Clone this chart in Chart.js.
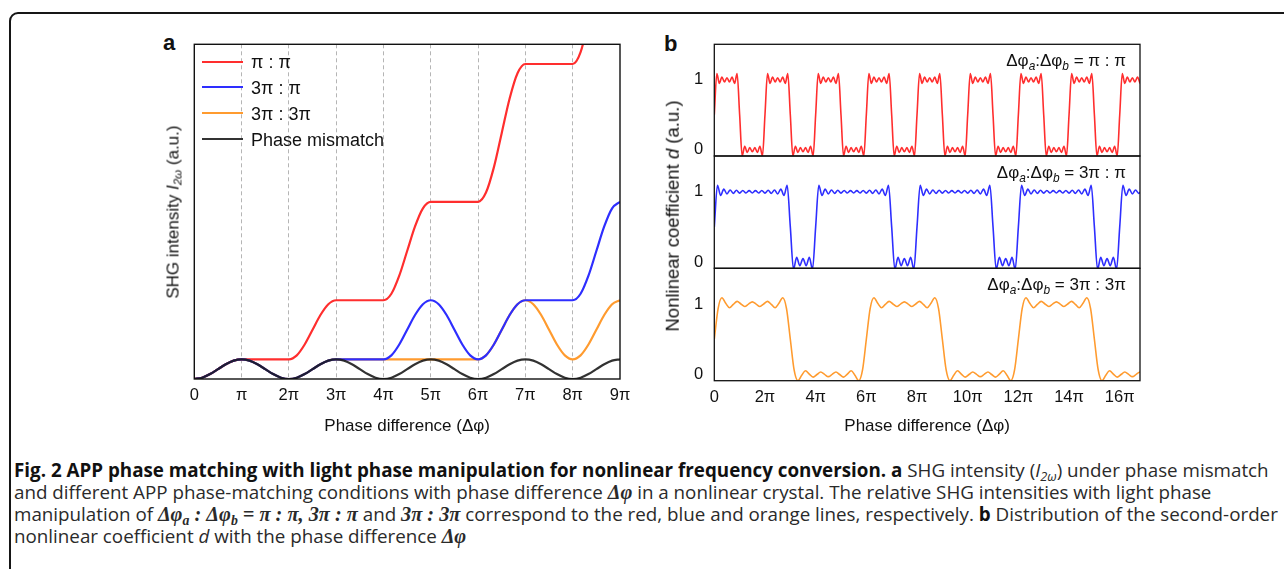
<!DOCTYPE html>
<html><head><meta charset="utf-8">
<script src="https://cdn.jsdelivr.net/npm/chart.js@4.4.1/dist/chart.umd.min.js"></script>
<style>
html,body{margin:0;padding:0;background:#fff;}
body{width:1284px;height:569px;position:relative;overflow:hidden;font-family:'Liberation Sans',Arial,Helvetica,sans-serif;color:#111;}
.abs{position:absolute;}
#frame{left:9px;top:12px;width:1300px;height:590px;border:2.2px solid #161616;border-radius:9px;box-sizing:border-box;}
canvas{position:absolute;}
.plbl{font-weight:bold;font-size:22px;line-height:1;transform:translateY(-50%);}
.ytitle{white-space:nowrap;transform:translate(-50%,-50%) rotate(-90deg);line-height:1;}
.ytitle sub{font-size:0.68em;vertical-align:-0.3em;line-height:0;}
.legline{width:41px;height:2.4px;}
.legtxt{font-size:18px;line-height:1;transform:translateY(-50%);white-space:nowrap;}
.ann{font-size:17px;line-height:1;transform:translateY(-50%);white-space:nowrap;text-align:right;}
.ann sub{font-size:0.7em;font-style:italic;vertical-align:-0.35em;line-height:0;}
#cap{left:14px;top:459px;font-family:'Open Sans','Noto Sans',sans-serif;font-size:15px;line-height:22px;color:#2a2a2a;}
#cap .cl{white-space:nowrap;}
#cap b{font-weight:700;color:#111;}
#cap .m{font-family:'Liberation Serif','DejaVu Serif',serif;font-weight:bold;font-style:italic;font-size:1.08em;}
#cap sub{font-size:0.68em;vertical-align:-0.3em;line-height:0;}
</style></head>
<body>
<div id="frame" class="abs"></div>

<div class="abs plbl" style="left:163px;top:43px;">a</div>
<div class="abs plbl" style="left:664px;top:44px;">b</div>

<canvas id="cA" width="466" height="410" style="left:174px;top:34px;"></canvas>
<canvas id="cB1" width="500" height="132" style="left:660px;top:34px;"></canvas>
<canvas id="cB2" width="500" height="133" style="left:660px;top:146px;"></canvas>
<canvas id="cB3" width="500" height="186" style="left:660px;top:258px;"></canvas>

<div class="abs ytitle" style="left:173px;top:212px;font-size:17px;">SHG intensity <i>I</i><sub><i>2ω</i></sub> (a.u.)</div>
<div class="abs ytitle" style="left:673px;top:216px;font-size:18.5px;">Nonlinear coefficient <i>d</i> (a.u.)</div>

<div class="abs legline" style="left:202px;top:60.5px;background:#ff2e2e"></div>
<div class="abs legline" style="left:202px;top:86.1px;background:#2e2eff"></div>
<div class="abs legline" style="left:202px;top:112.1px;background:#ff9b2f"></div>
<div class="abs legline" style="left:202px;top:137.8px;background:#333"></div>
<div class="abs legtxt" style="left:251px;top:62px;">π : π</div>
<div class="abs legtxt" style="left:251px;top:88px;">3π : π</div>
<div class="abs legtxt" style="left:251px;top:114px;">3π : 3π</div>
<div class="abs legtxt" style="left:251px;top:139.5px;">Phase mismatch</div>

<div class="abs ann" style="right:158px;top:60px;">Δφ<sub>a</sub>:Δφ<sub>b</sub> = π : π</div>
<div class="abs ann" style="right:158px;top:172px;">Δφ<sub>a</sub>:Δφ<sub>b</sub> = 3π : π</div>
<div class="abs ann" style="right:158px;top:284px;">Δφ<sub>a</sub>:Δφ<sub>b</sub> = 3π : 3π</div>

<div id="cap" class="abs">
<div class="cl" id="l1"><b>Fig. 2 APP phase matching with light phase manipulation for nonlinear frequency conversion.</b> <b>a</b> SHG intensity (<i>I</i><sub><i>2ω</i></sub>) under phase mismatch</div>
<div class="cl" id="l2">and different APP phase-matching conditions with phase difference <span class="m">Δφ</span> in a nonlinear crystal. The relative SHG intensities with light phase</div>
<div class="cl" id="l3">manipulation of <span class="m">Δφ<sub>a</sub> : Δφ<sub>b</sub> = π : π, 3π : π</span> and <span class="m">3π : 3π</span> correspond to the red, blue and orange lines, respectively. <b>b</b> Distribution of the second-order</div>
<div class="cl" id="l4">nonlinear coefficient <i>d</i> with the phase difference <span class="m">Δφ</span></div>
</div>

<script>
// ---------- Panel a data (x in units of π, sampled every π/6) ----------
const STEP_A = 1/6;
const tickValsA = [0,1,2,3,4,5,6,7,8,9];
const tickLabelsA = ["0","π","2π","3π","4π","5π","6π","7π","8π","9π"];
const mismatchA = [0,.067,.25,.5,.75,.933,1,.933,.75,.5,.25,.067,0,
  .067,.25,.5,.75,.933,1,.933,.75,.5,.25,.067,0,
  .067,.25,.5,.75,.933,1,.933,.75,.5,.25,.067,0,
  .067,.25,.5,.75,.933,1,.933,.75,.5,.25,.067,0,
  .067,.25,.5,.75,.933,1];
const redA = [0,.067,.25,.5,.75,.933,1, 1,1,1,1,1,1,
  1.2,1.75,2.5,3.25,3.8,4, 4,4,4,4,4,4,
  4.33,5.25,6.5,7.75,8.67,9, 9,9,9,9,9,9,
  9.47,10.75,12.5,14.25,15.53,16, 16,16,16,16,16,16,
  16.6,18.25,20.5,22.75,24.4,25];
const blueA = [0,.067,.25,.5,.75,.933,1,.933,.75,.5,.25,.067,0,.067,.25,.5,.75,.933,1,
  1,1,1,1,1,1,
  1.2,1.75,2.5,3.25,3.8,4, 3.8,3.25,2.5,1.75,1.2,1,
  1.2,1.75,2.5,3.25,3.8,4, 4,4,4,4,4,4,
  4.33,5.25,6.5,7.75,8.67,9];
const orangeA = [0,.067,.25,.5,.75,.933,1,.933,.75,.5,.25,.067,0,.067,.25,.5,.75,.933,1,
  1,1,1,1,1,1, 1,1,1,1,1,1, 1,1,1,1,1,1,
  1.2,1.75,2.5,3.25,3.8,4, 3.8,3.25,2.5,1.75,1.2,1,
  1.2,1.75,2.5,3.25,3.8,4];

// ---------- Panel b data (x in units of π) ----------
const tickValsB = [0,2,4,6,8,10,12,14,16];
const tickLabelsB = ["0","2π","4π","6π","8π","10π","12π","14π","16π"];
const yTickValsB = [0,1];
const STEP_RED_B = 0.1;
const redB = [
 .5,1.09,.95,1.04,.97,1.03,.97,1.04,.95,1.09,.5,-.09,.05,-.04,.03,-.03,.03,-.04,.05,-.09,
 .5,1.09,.95,1.04,.97,1.03,.97,1.04,.95,1.09,.5,-.09,.05,-.04,.03,-.03,.03,-.04,.05,-.09,
 .5,1.09,.95,1.04,.97,1.03,.97,1.04,.95,1.09,.5,-.09,.05,-.04,.03,-.03,.03,-.04,.05,-.09,
 .5,1.09,.95,1.04,.97,1.03,.97,1.04,.95,1.09,.5,-.09,.05,-.04,.03,-.03,.03,-.04,.05,-.09,
 .5,1.09,.95,1.04,.97,1.03,.97,1.04,.95,1.09,.5,-.09,.05,-.04,.03,-.03,.03,-.04,.05,-.09,
 .5,1.09,.95,1.04,.97,1.03,.97,1.04,.95,1.09,.5,-.09,.05,-.04,.03,-.03,.03,-.04,.05,-.09,
 .5,1.09,.95,1.04,.97,1.03,.97,1.04,.95,1.09,.5,-.09,.05,-.04,.03,-.03,.03,-.04,.05,-.09,
 .5,1.09,.95,1.04,.97,1.03,.97,1.04,.95,1.09,.5,-.09,.05,-.04,.03,-.03,.03,-.04,.05,-.09,
 .5,1.09,.95,1.04,.97,1.03,.97,1.04,.95];
const STEP_BLUE_B = 0.125;
const blueB = [
 .5,1.094,.947,1.038,.97,1.025,.978,1.021,.981,1.018,.983,1.017,.983,1.017,.983,1.018,.981,1.021,.978,1.025,.97,1.038,.947,1.094,.5,-.104,.066,-.053,.05,-.053,.066,-.104,
 .5,1.094,.947,1.038,.97,1.025,.978,1.021,.981,1.018,.983,1.017,.983,1.017,.983,1.018,.981,1.021,.978,1.025,.97,1.038,.947,1.094,.5,-.104,.066,-.053,.05,-.053,.066,-.104,
 .5,1.094,.947,1.038,.97,1.025,.978,1.021,.981,1.018,.983,1.017,.983,1.017,.983,1.018,.981,1.021,.978,1.025,.97,1.038,.947,1.094,.5,-.104,.066,-.053,.05,-.053,.066,-.104,
 .5,1.094,.947,1.038,.97,1.025,.978,1.021,.981,1.018,.983,1.017,.983,1.017,.983,1.018,.981,1.021,.978,1.025,.97,1.038,.947,1.094,.5,-.104,.066,-.053,.05,-.053,.066,-.104,
 .5,1.094,.947,1.038,.97,1.025,.978,1.021];
const STEP_ORANGE_B = 0.15;
const orangeB = [
 .5,.937,1.091,1.011,.948,.996,1.039,1.002,.967,1,1.032,1,.967,1.002,1.039,.996,.948,1.011,1.091,.937,
 .5,.063,-.091,-.011,.052,.004,-.039,-.002,.033,0,-.032,0,.033,-.002,-.039,.004,.052,-.011,-.091,.063,
 .5,.937,1.091,1.011,.948,.996,1.039,1.002,.967,1,1.032,1,.967,1.002,1.039,.996,.948,1.011,1.091,.937,
 .5,.063,-.091,-.011,.052,.004,-.039,-.002,.033,0,-.032,0,.033,-.002,-.039,.004,.052,-.011,-.091,.063,
 .5,.937,1.091,1.011,.948,.996,1.039,1.002,.967,1,1.032,1,.967,1.002,1.039,.996,.948,1.011,1.091,.937,
 .5,.063,-.091,-.011,.052,.004,-.039,-.002,.033,0,-.032,0,.033,-.002];

// ---------- styling ----------
const RED = '#ff2e2e', BLUE = '#2e2eff', ORANGE = '#ff9b2f', DARK = 'rgba(28,28,28,0.9)';
const FONT = "'Liberation Sans', Arial, Helvetica, sans-serif";
const X_MAX_B = 16.8;
const toXY = (step, ys) => ys.map((y, i) => ({x: i * step, y}));

const boxPlugin = {
  id: 'box',
  afterDatasetsDraw(chart, args, opts) {
    const {ctx, chartArea: a} = chart;
    ctx.save();
    ctx.strokeStyle = '#111';
    ctx.lineWidth = opts.width || 1.3;
    ctx.strokeRect(a.left, a.top, a.right - a.left, a.bottom - a.top);
    ctx.restore();
  }
};
const noPad = a => { a.paddingTop = 0; a.paddingBottom = 0; a.paddingLeft = 0; a.paddingRight = 0; };

// ---------- Panel a ----------
new Chart(document.getElementById('cA'), {
  type: 'line',
  data: {datasets: [
    {label: 'Phase mismatch', data: toXY(STEP_A, mismatchA), borderColor: DARK, order: 0},
    {label: '3π : π', data: toXY(STEP_A, blueA), borderColor: BLUE, order: 1},
    {label: 'π : π', data: toXY(STEP_A, redA), borderColor: RED, order: 2},
    {label: '3π : 3π', data: toXY(STEP_A, orangeA), borderColor: ORANGE, order: 3}
  ]},
  options: {
    responsive: false, animation: false, devicePixelRatio: 1,
    layout: {padding: {left: 20.3, right: 20, top: 10.3, bottom: 0}},
    plugins: {legend: {display: false}, tooltip: {enabled: false}, box: {width: 1.4}},
    elements: {point: {radius: 0}, line: {borderWidth: 2.2, cubicInterpolationMode: 'monotone', fill: false}},
    scales: {
      x: {
        type: 'linear', min: 0, max: 9,
        afterBuildTicks: a => { a.ticks = tickValsA.map(v => ({value: v})); },
        afterFit: a => { a.height = 65; noPad(a); },
        ticks: {autoSkip: false, maxRotation: 0, padding: 7, color: '#111',
          font: {family: FONT, size: 16.5},
          callback: v => tickLabelsA[tickValsA.indexOf(v)]},
        grid: {display: true, drawTicks: false, lineWidth: 1,
          color: c => (c.tick && (c.tick.value === 0 || c.tick.value === 9)) ? 'rgba(0,0,0,0)' : '#b5b5b5'},
        border: {display: false, dash: [4, 3]},
        title: {display: true, text: 'Phase difference (Δφ)', color: '#111',
          font: {family: FONT, size: 17}, padding: {top: 0, bottom: 7.8}}
      },
      y: {type: 'linear', min: 0, max: 17, display: false}
    }
  },
  plugins: [boxPlugin]
});

// ---------- Panel b ----------
function makeB(id, step, ys, color, pad, showX) {
  return new Chart(document.getElementById(id), {
    type: 'line',
    data: {datasets: [{data: toXY(step, ys), borderColor: color}]},
    options: {
      responsive: false, animation: false, devicePixelRatio: 1,
      layout: {padding: {left: 0, right: 20, top: pad[0], bottom: pad[1]}},
      plugins: {legend: {display: false}, tooltip: {enabled: false}, box: {width: 1.3}},
      elements: {point: {radius: 0}, line: {borderWidth: 1.6, cubicInterpolationMode: 'monotone', fill: false}},
      scales: {
        x: {
          type: 'linear', min: 0, max: X_MAX_B, display: showX,
          afterBuildTicks: a => { a.ticks = tickValsB.map(v => ({value: v})); },
          afterFit: a => { a.height = showX ? 63.3 : 0; noPad(a); },
          ticks: {autoSkip: false, maxRotation: 0, padding: 7, color: '#111',
            font: {family: FONT, size: 16.5},
            callback: v => tickLabelsB[tickValsB.indexOf(v)]},
          grid: {display: false, drawTicks: false},
          border: {display: false},
          title: {display: true, text: 'Phase difference (Δφ)', color: '#111',
            font: {family: FONT, size: 17}, padding: {top: 0, bottom: 7.1}}
        },
        y: {
          type: 'linear', min: -0.09, max: 1.51,
          afterBuildTicks: a => { a.ticks = yTickValsB.map(v => ({value: v})); },
          afterFit: a => { a.width = 54.3; noPad(a); },
          ticks: {padding: 11, color: '#111', font: {family: FONT, size: 16.5},
            callback: v => String(v)},
          grid: {display: false, drawTicks: false},
          border: {display: false}
        }
      }
    },
    plugins: [boxPlugin]
  });
}
makeB('cB1', STEP_RED_B, redB, RED, [10.3, 10], false);
makeB('cB2', STEP_BLUE_B, blueB, BLUE, [10, 10.7], false);
makeB('cB3', STEP_ORANGE_B, orangeB, ORANGE, [10.3, 0], true);

// ---------- caption width fit (layout only) ----------
(function fitCaption(){
  const cap = document.getElementById('cap');
  const l1 = document.getElementById('l1');
  const w = l1.scrollWidth;
  const target = 1264;
  const fs = 15 * target / w;
  cap.style.fontSize = fs.toFixed(2) + 'px';
})();
</script>
</body></html>
